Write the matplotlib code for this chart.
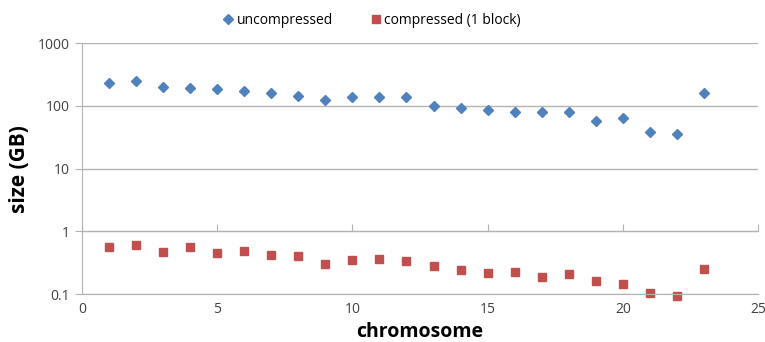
import numpy as np
import matplotlib.pyplot as plt

# chromosome sizes
chromosome = list(range(1, 24))
uncompressed = [232, 247, 202, 190, 185, 175, 162, 145, 125, 136, 136, 136,
                99, 93, 86, 81, 79, 79, 56.5, 63, 39, 35, 158]
compressed = [0.565, 0.608, 0.474, 0.571, 0.451, 0.486, 0.419, 0.398, 0.306,
              0.356, 0.369, 0.343, 0.28, 0.239, 0.214, 0.222, 0.186, 0.211,
              0.164, 0.145, 0.106, 0.095, 0.251]

plt.rcParams['font.family'] = ['Open Sans', 'DejaVu Sans']

fig = plt.figure(figsize=(7.65, 3.42), dpi=100)
ax = fig.add_axes([0.107, 0.140, 0.884, 0.734])

grid_c = '#b3b3b3'
ax.plot(chromosome, uncompressed, 'D', color='#4f81bd', ms=5, label='uncompressed',
        clip_on=False)
ax.plot(chromosome, compressed, 's', color='#c0504d', ms=6, label='compressed (1 block)',
        clip_on=False)

ax.set_yscale('log')
ax.set_ylim(0.1, 1000)
ax.set_xlim(0, 25)
ax.set_yticks([0.1, 1, 10, 100, 1000])
ax.set_yticklabels(['0.1', '1', '10', '100', '1000'])
ax.set_xticks([0, 5, 10, 15, 20, 25])
ax.minorticks_off()
ax.yaxis.grid(True, color=grid_c, lw=1)
ax.set_axisbelow(True)

for s in ['top', 'right']:
    ax.spines[s].set_visible(False)
for s in ['left', 'bottom']:
    ax.spines[s].set_color(grid_c)
ax.tick_params(axis='y', colors=grid_c, labelcolor='#404040', labelsize=10, length=5)
ax.tick_params(axis='x', length=0, labelcolor='#404040', labelsize=10, pad=6)

# Excel crosses the horizontal axis at 1 on a log scale
sec = ax.secondary_xaxis(0.25)
sec.set_xticks([0, 5, 10, 15, 20, 25])
sec.tick_params(direction='in', length=5, colors=grid_c, labelbottom=False)
sec.spines['bottom'].set_color(grid_c)

ax.set_ylabel('size (GB)', fontsize=15, fontweight='bold', labelpad=6)
ax.set_xlabel('chromosome', fontsize=14, fontweight='bold', labelpad=3)

fig.legend(loc='upper center', bbox_to_anchor=(0.485, 1.0), ncol=2, frameon=False,
           fontsize=10, handletextpad=0.1, columnspacing=2.6, handlelength=1)

fig.savefig('out.png', dpi=100)
